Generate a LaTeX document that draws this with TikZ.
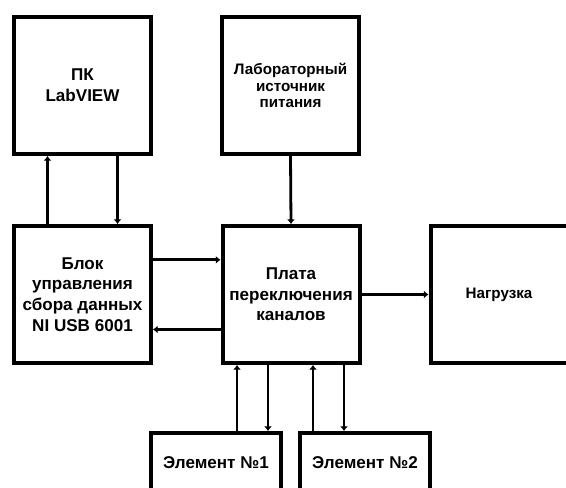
\documentclass[tikz,border=0pt]{standalone}
\usepackage{fontspec}
\setmainfont{Liberation Sans}
\usetikzlibrary{arrows.meta}

\begin{document}
\begin{tikzpicture}[x=0.75pt,y=0.75pt]
    % Define styles
    \tikzstyle{block} = [rectangle, draw=black, line width=3pt, minimum width=102.75pt,
                         minimum height=102.75pt, inner sep=0pt, align=center,
                         font=\fontsize{12.8}{15.5}\selectfont\bfseries]
    \tikzstyle{small} = [font=\fontsize{11.4}{12.4}\selectfont\bfseries]
    \tikzstyle{element} = [block, minimum width=97.5pt, minimum height=45pt]
    \tikzstyle{arrow} = [line width=2.1pt,-{Latex[length=3.5pt,width=6pt]}]

    \clip (0,0) rectangle (566,487);

    % Nodes positioned absolutely
    \node[block] (pc) at (82.5,401.5) {ПК\\LabVIEW};
    \node[block, small] (lab) at (290.5,401.5) {Лабораторный\\источник\\питания};
    \node[block] (daq) at (82.5,192.5) {Блок\\управления\\сбора данных\\NI USB 6001};
    \node[block] (board) at (291,192.5) {Плата\\переключения\\каналов};
    \node[block, small] (load) at (499,192.5) {Нагрузка};
    \node[element] (elem1) at (216,24) {Элемент №1};
    \node[element] (elem2) at (365,24) {Элемент №2};

    % Arrows
    \draw[arrow] ([xshift=-26.25pt]daq.north) -- ([xshift=-26.25pt]pc.south);
    \draw[arrow] ([xshift=26.25pt]pc.south) -- ([xshift=26.25pt]daq.north);
    \draw[arrow] (lab.south) -- (board.north);
    \draw[arrow] ([yshift=26pt]daq.east) -- ([yshift=26pt]board.west);
    \draw[arrow] ([yshift=-26.25pt]board.west) -- ([yshift=-26.25pt]daq.east);
    \draw[arrow] (board.east) -- (load.west);
    \draw[arrow] ([xshift=15.75pt]elem1.north) -- ([xshift=-40.5pt]board.south);
    \draw[arrow] ([xshift=-17.25pt]board.south) -- ([xshift=39pt]elem1.north);
    \draw[arrow] ([xshift=-39pt]elem2.north) -- ([xshift=16.5pt]board.south);
    \draw[arrow] ([xshift=39.75pt]board.south) -- ([xshift=-15.75pt]elem2.north);
\end{tikzpicture}
\end{document}
